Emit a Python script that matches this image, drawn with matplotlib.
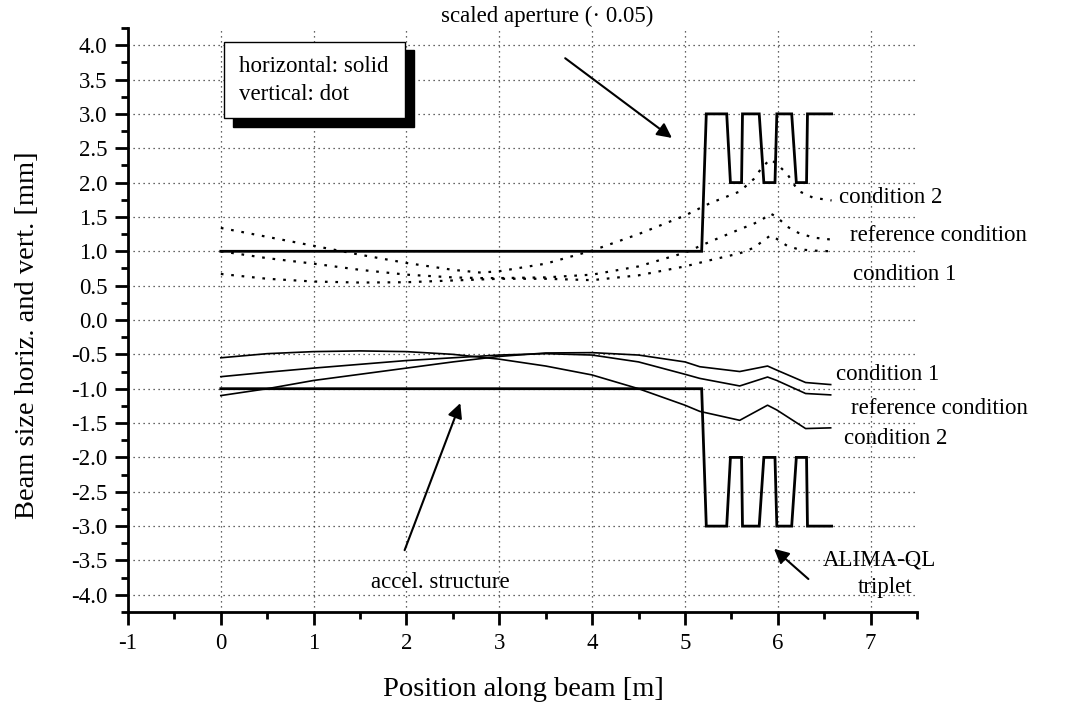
import matplotlib
matplotlib.use("Agg")
import matplotlib.pyplot as plt
from matplotlib.patches import Rectangle

plt.rcParams['font.family'] = ['Liberation Serif', 'DejaVu Serif']

# ---------------- data ----------------
# scaled aperture (upper = +, lower = -)
ap_x = [0, 5.18, 5.23, 5.45, 5.49, 5.61, 5.62, 5.80, 5.85, 5.97, 5.99, 6.15, 6.20, 6.31, 6.32, 6.58]
ap_y = [1, 1, 3, 3, 2, 2, 3, 3, 2, 2, 3, 3, 2, 2, 3, 3]

# vertical beam size (dotted, positive)
v_x = [0, 0.5, 1, 1.5, 2, 2.5, 2.8, 3, 3.5, 4, 4.5, 5, 5.27, 5.59, 5.74, 5.83, 5.92, 5.99, 6.10, 6.22, 6.38, 6.58]
v_cond2 = [1.34, 1.21, 1.08, 0.95, 0.83, 0.73, 0.69, 0.71, 0.82, 1.01, 1.25, 1.52, 1.70, 1.87, 2.05, 2.22, 2.34, 2.27, 2.13, 1.88, 1.78, 1.74]
v_ref = [1.0, 0.90, 0.82, 0.73, 0.66, 0.62, 0.61, 0.61, 0.62, 0.66, 0.78, 0.98, 1.14, 1.32, 1.40, 1.46, 1.55, 1.50, 1.36, 1.27, 1.20, 1.17]
v_cond1 = [0.67, 0.60, 0.56, 0.545, 0.55, 0.575, 0.59, 0.60, 0.60, 0.58, 0.65, 0.78, 0.87, 0.97, 1.05, 1.14, 1.23, 1.18, 1.08, 1.03, 1.01, 1.0]

# horizontal beam size (solid, negative)
h_x = [0, 0.5, 1, 1.5, 2, 2.5, 3, 3.5, 4, 4.5, 5, 5.16, 5.59, 5.89, 5.99, 6.30, 6.57]
h_cond2 = [-0.55, -0.49, -0.46, -0.45, -0.46, -0.50, -0.57, -0.67, -0.80, -1.00, -1.24, -1.33, -1.46, -1.24, -1.31, -1.58, -1.57]
h_ref = [-0.825, -0.76, -0.70, -0.645, -0.59, -0.55, -0.51, -0.49, -0.51, -0.61, -0.79, -0.85, -0.96, -0.83, -0.88, -1.07, -1.09]
h_cond1 = [-1.10, -1.00, -0.88, -0.79, -0.70, -0.61, -0.53, -0.48, -0.475, -0.51, -0.61, -0.68, -0.75, -0.67, -0.73, -0.91, -0.94]

x_ticks = [-1, 0, 1, 2, 3, 4, 5, 6, 7]
y_ticks = [-4.0, -3.5, -3.0, -2.5, -2.0, -1.5, -1.0, -0.5, 0.0, 0.5, 1.0, 1.5, 2.0, 2.5, 3.0, 3.5, 4.0]

W, H = 1068, 706
fig = plt.figure(figsize=(W / 100, H / 100), dpi=100)
ax = fig.add_axes([128 / W, 1 - 612 / H, (917 - 128) / W, (612 - 28) / H])


def fx(px):
    return px / W


def fy(py):
    return 1 - py / H


ax.set_xlim(-1, 7.5)
ax.set_ylim(-4.25, 4.25)
ax.set_xticks(x_ticks)
ax.set_xticklabels([f"{t:d}" for t in x_ticks])
ax.set_yticks(y_ticks)
ax.set_yticklabels([f"{t:.1f}" for t in y_ticks])
ax.set_xticks([-0.5 + i for i in range(9)], minor=True)
ax.set_yticks([-4.25 + 0.5 * i for i in range(18)], minor=True)

for s in ['top', 'right']:
    ax.spines[s].set_visible(False)
for s in ['left', 'bottom']:
    ax.spines[s].set_linewidth(2.0)
ax.tick_params(which='major', direction='out', length=9.5, width=2.0, labelsize=16.5, pad=5.5)
ax.tick_params(which='minor', direction='out', length=5, width=2.0)

ax.grid(True, which='major', color='#333333', linestyle=(0, (1, 3)), linewidth=0.9)
ax.set_axisbelow(True)

# aperture
ax.plot(ap_x, ap_y, color='k', lw=2.0, solid_joinstyle='miter')
ax.plot(ap_x, [-v for v in ap_y], color='k', lw=2.0, solid_joinstyle='miter')

dot = (0, (1.2, 3.5))
for ys in (v_cond2, v_ref, v_cond1):
    ax.plot(v_x, ys, color='k', lw=1.6, linestyle=dot)
for ys in (h_cond2, h_ref, h_cond1):
    ax.plot(h_x, ys, color='k', lw=1.2)

fs = 16.5
# curve labels (figure pixel positions)
fig.text(fx(839), fy(198), "condition 2", fontsize=fs, va='center', ha='left')
fig.text(fx(850), fy(235), "reference condition", fontsize=fs, va='center', ha='left')
fig.text(fx(853), fy(275), "condition 1", fontsize=fs, va='center', ha='left')
fig.text(fx(836), fy(375), "condition 1", fontsize=fs, va='center', ha='left')
fig.text(fx(851), fy(408), "reference condition", fontsize=fs, va='center', ha='left')
fig.text(fx(844), fy(438), "condition 2", fontsize=fs, va='center', ha='left')
fig.text(fx(823), fy(560), "ALIMA-QL", fontsize=fs, va='center', ha='left')
fig.text(fx(858), fy(587), "triplet", fontsize=fs, va='center', ha='left')
fig.text(fx(440), fy(582), "accel. structure", fontsize=fs, va='center', ha='center')
fig.text(fx(547), fy(16), "scaled aperture (\u00b7 0.05)", fontsize=fs, va='center', ha='center')

arrow = dict(arrowstyle='-|>', color='k', lw=1.5, mutation_scale=22, shrinkA=0, shrinkB=0)
ax.annotate("", xy=(4.86, 2.65), xytext=(3.71, 3.81), arrowprops=arrow)
ax.annotate("", xy=(2.58, -1.21), xytext=(1.98, -3.35), arrowprops=arrow)
ax.annotate("", xy=(5.96, -3.33), xytext=(6.33, -3.77), arrowprops=arrow)

# legend box with drop shadow
fig.patches.append(Rectangle((fx(233), fy(127)), (414 - 233) / W, (127 - 50) / H,
                             transform=fig.transFigure, facecolor='k', edgecolor='k', zorder=5))
fig.patches.append(Rectangle((fx(224), fy(118)), (405 - 224) / W, (118 - 42) / H,
                             transform=fig.transFigure, facecolor='white', edgecolor='k',
                             lw=1.0, zorder=6))
fig.text(fx(239), fy(67), "horizontal: solid", fontsize=fs, va='center', ha='left', zorder=7)
fig.text(fx(239), fy(95), "vertical: dot", fontsize=fs, va='center', ha='left', zorder=7)

fig.text(fx(523), fy(690), "Position along beam [m]", fontsize=20.5, va='center', ha='center')
fig.text(fx(28), fy(335), "Beam size horiz. and vert. [mm]", fontsize=20.5, va='center',
         ha='center', rotation=90)

fig.savefig("out.png", dpi=100)
